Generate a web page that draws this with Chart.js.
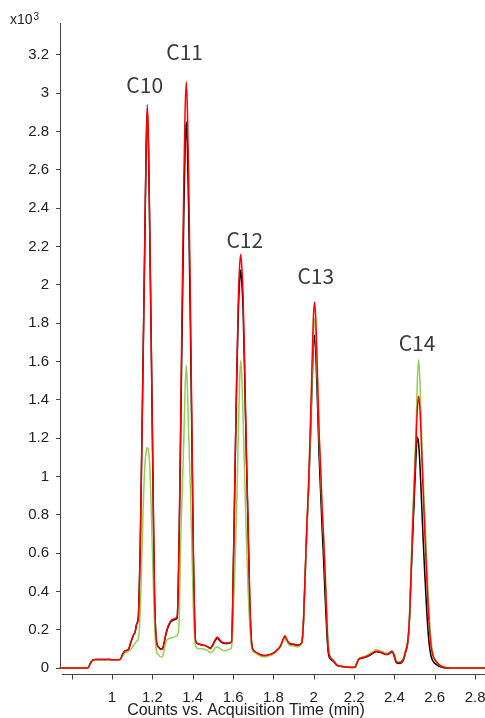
<!DOCTYPE html>
<html>
<head>
<meta charset="utf-8">
<script src="https://cdn.jsdelivr.net/npm/chart.js@4.4.1/dist/chart.umd.min.js"></script>
<style>
  html, body { margin: 0; padding: 0; background: #fff; }
</style>
</head>
<body>
<canvas id="chrom" width="485" height="718"></canvas>
<script>
// acquisition time (min), shared by the three traces
const times = [
  0.74, 0.80, 0.88, 0.893, 0.905, 0.92, 0.95, 0.98, 1.00, 1.02, 1.04, 1.052, 1.065, 1.08, 1.095, 1.105, 1.115, 1.122,
  1.130, 1.140, 1.147, 1.155, 1.163, 1.169, 1.175, 1.181, 1.187, 1.195, 1.203, 1.210, 1.220,
  1.230, 1.240, 1.248, 1.256, 1.265, 1.275, 1.290, 1.305, 1.315,
  1.323, 1.333, 1.340, 1.348, 1.356, 1.362, 1.368, 1.374, 1.380, 1.388, 1.396, 1.403, 1.413,
  1.420, 1.430, 1.445, 1.460, 1.475, 1.487, 1.500, 1.512, 1.522, 1.532, 1.545, 1.560, 1.575, 1.588,
  1.593, 1.603, 1.610, 1.618, 1.626, 1.632, 1.638, 1.644, 1.650, 1.658, 1.666, 1.673, 1.683, 1.692, 1.700,
  1.710, 1.725, 1.740, 1.758, 1.775, 1.795, 1.815, 1.835, 1.848, 1.857, 1.866, 1.880, 1.900, 1.920,
  1.940, 1.948, 1.957, 1.966, 1.974, 1.982, 1.990, 1.997, 2.004, 2.011, 2.018, 2.026, 2.034, 2.041, 2.049, 2.057, 2.065, 2.072, 2.080, 2.090, 2.100,
  2.115, 2.130, 2.150, 2.170, 2.190, 2.205, 2.212, 2.222, 2.235, 2.250, 2.265, 2.280, 2.295, 2.310, 2.325, 2.340, 2.355, 2.365, 2.378, 2.388, 2.398, 2.408, 2.420, 2.432, 2.444, 2.456,
  2.466, 2.474, 2.482, 2.490, 2.498, 2.506, 2.513, 2.520, 2.527, 2.534, 2.542, 2.550, 2.558, 2.566, 2.574, 2.582, 2.592, 2.605, 2.620, 2.640, 2.660,
  2.700, 2.780, 2.850
];

// counts (x10^3)
const redTrace = [
  0, 0, 0, 0.025, 0.042, 0.045, 0.044, 0.045, 0.043, 0.043, 0.044, 0.07, 0.09, 0.095, 0.14, 0.17, 0.19, 0.23,
  0.26, 0.65, 1.12, 1.68, 2.28, 2.72, 2.94, 2.72, 2.28, 1.65, 0.98, 0.42, 0.14,
  0.11, 0.097, 0.097, 0.12, 0.17, 0.21, 0.245, 0.255, 0.26,
  0.27, 0.72, 1.28, 1.95, 2.55, 2.90, 3.06, 2.90, 2.55, 1.95, 1.25, 0.62, 0.15,
  0.13, 0.125, 0.12, 0.118, 0.11, 0.10, 0.12, 0.15, 0.16, 0.15, 0.135, 0.13, 0.13, 0.135,
  0.14, 0.62, 1.05, 1.52, 1.92, 2.09, 2.16, 2.08, 1.93, 1.55, 1.13, 0.82, 0.35, 0.13, 0.095,
  0.085, 0.075, 0.068, 0.065, 0.068, 0.075, 0.09, 0.115, 0.15, 0.168, 0.15, 0.128, 0.125, 0.12,
  0.13, 0.22, 0.48, 0.75, 0.95, 1.22, 1.52, 1.80, 1.911, 1.80, 1.55, 1.25, 1.05, 0.85, 0.68, 0.48, 0.25, 0.10, 0.06, 0.045, 0.035,
  0.015, 0.01, 0.007, 0.005, 0.004, 0.005, 0.02, 0.045, 0.052, 0.056, 0.062, 0.07, 0.08, 0.088, 0.085, 0.08, 0.072, 0.072, 0.08, 0.088, 0.07, 0.035, 0.028, 0.03, 0.045, 0.09,
  0.14, 0.25, 0.48, 0.72, 0.93, 1.15, 1.34, 1.418, 1.34, 1.16, 0.93, 0.72, 0.52, 0.34, 0.20, 0.11, 0.06, 0.035, 0.018, 0.006, 0.001,
  0, 0, 0
];

const blackTrace = [
  0, 0, 0, 0.025, 0.042, 0.045, 0.044, 0.045, 0.043, 0.043, 0.044, 0.07, 0.09, 0.095, 0.14, 0.17, 0.19, 0.23,
  0.26, 0.65, 1.12, 1.68, 2.27, 2.70, 2.92, 2.70, 2.27, 1.64, 0.97, 0.41, 0.14,
  0.11, 0.10, 0.10, 0.12, 0.165, 0.205, 0.24, 0.25, 0.255,
  0.26, 0.68, 1.20, 1.82, 2.38, 2.70, 2.85, 2.70, 2.38, 1.82, 1.18, 0.60, 0.15,
  0.13, 0.125, 0.12, 0.117, 0.11, 0.105, 0.12, 0.145, 0.155, 0.145, 0.132, 0.128, 0.128, 0.132,
  0.14, 0.62, 1.04, 1.50, 1.86, 2.01, 2.077, 2.00, 1.86, 1.50, 1.10, 0.80, 0.34, 0.13, 0.095,
  0.085, 0.075, 0.068, 0.065, 0.068, 0.075, 0.09, 0.113, 0.145, 0.16, 0.145, 0.125, 0.122, 0.118,
  0.13, 0.22, 0.47, 0.73, 0.92, 1.15, 1.42, 1.65, 1.737, 1.62, 1.40, 1.12, 0.92, 0.74, 0.56, 0.36, 0.18, 0.08, 0.05, 0.04, 0.032,
  0.014, 0.009, 0.006, 0.004, 0.003, 0.004, 0.02, 0.044, 0.05, 0.054, 0.06, 0.068, 0.078, 0.085, 0.083, 0.078, 0.07, 0.07, 0.078, 0.085, 0.065, 0.03, 0.024, 0.026, 0.04, 0.085,
  0.13, 0.24, 0.46, 0.68, 0.88, 1.08, 1.206, 1.17, 1.05, 0.88, 0.68, 0.50, 0.34, 0.20, 0.11, 0.06, 0.035, 0.02, 0.01, 0.003, 0,
  0, 0, 0
];

const greenTrace = [
  0, 0, 0, 0.025, 0.042, 0.044, 0.043, 0.044, 0.042, 0.042, 0.043, 0.065, 0.08, 0.085, 0.10, 0.115, 0.13, 0.14,
  0.15, 0.30, 0.55, 0.86, 1.06, 1.13, 1.15, 1.13, 1.06, 0.80, 0.50, 0.25, 0.09,
  0.07, 0.058, 0.057, 0.08, 0.13, 0.15, 0.155, 0.16, 0.165,
  0.17, 0.25, 0.65, 0.92, 1.20, 1.45, 1.58, 1.45, 1.22, 0.95, 0.62, 0.32, 0.12,
  0.105, 0.10, 0.10, 0.098, 0.09, 0.08, 0.09, 0.105, 0.11, 0.105, 0.095, 0.09, 0.095, 0.10,
  0.11, 0.35, 0.55, 0.85, 1.22, 1.48, 1.607, 1.50, 1.30, 0.98, 0.68, 0.45, 0.22, 0.11, 0.085,
  0.08, 0.068, 0.06, 0.058, 0.062, 0.07, 0.085, 0.11, 0.14, 0.155, 0.14, 0.12, 0.115, 0.11,
  0.13, 0.21, 0.46, 0.72, 0.92, 1.18, 1.46, 1.72, 1.824, 1.72, 1.50, 1.22, 1.02, 0.84, 0.68, 0.49, 0.27, 0.12, 0.065, 0.048, 0.038,
  0.016, 0.011, 0.008, 0.006, 0.005, 0.006, 0.022, 0.047, 0.055, 0.06, 0.067, 0.076, 0.086, 0.095, 0.092, 0.086, 0.078, 0.077, 0.084, 0.09, 0.074, 0.04, 0.032, 0.034, 0.05, 0.095,
  0.14, 0.25, 0.50, 0.78, 1.00, 1.22, 1.48, 1.61, 1.48, 1.25, 1.00, 0.82, 0.62, 0.42, 0.25, 0.14, 0.07, 0.04, 0.02, 0.008, 0.002,
  0, 0, 0
];

const xTicks = [0.8, 1, 1.2, 1.4, 1.6, 1.8, 2, 2.2, 2.4, 2.6, 2.8];

// peak annotations (placed in data coordinates)
const peakNames = ["C10", "C11", "C12", "C13", "C14"];
const peakLabelX = [1.162, 1.360, 1.658, 2.010, 2.512];
const peakLabelY = [3.043, 3.213, 2.234, 2.047, 1.698];

const toPoints = arr => times.map((t, i) => ({ x: t, y: arr[i] }));

const tickFont = { family: "'Liberation Sans', Arial, sans-serif", size: 15 };

const decor = {
  id: 'decor',
  afterDraw(chart) {
    const { ctx, chartArea, scales } = chart;
    const xs = scales.x, ys = scales.y;
    const axisY = chartArea.bottom + 6.5;
    ctx.save();
    // x axis line + ticks (sits slightly below the plot)
    ctx.strokeStyle = '#444';
    ctx.lineWidth = 1;
    ctx.beginPath();
    ctx.moveTo(chartArea.left + 2, axisY);
    ctx.lineTo(chartArea.right, axisY);
    xTicks.forEach(v => {
      const px = Math.round(xs.getPixelForValue(v)) + 0.5;
      ctx.moveTo(px, axisY);
      ctx.lineTo(px, axisY + 5);
    });
    ctx.stroke();

    // axis title
    ctx.fillStyle = '#222';
    ctx.font = "16px 'Liberation Sans', Arial, sans-serif";
    ctx.textAlign = 'center';
    ctx.textBaseline = 'alphabetic';
    ctx.fillText('Counts vs. Acquisition Time (min)', 246, 715);

    // x10^3
    ctx.textAlign = 'left';
    ctx.font = "14px 'Liberation Sans', Arial, sans-serif";
    ctx.fillText('x10', 10, 24);
    ctx.font = "10px 'Liberation Sans', Arial, sans-serif";
    ctx.fillText('3', 33.5, 19.5);

    // peak names
    ctx.fillStyle = '#3a3a3a';
    ctx.font = "21px 'Noto Sans CJK JP', 'Noto Sans', sans-serif";
    ctx.textAlign = 'center';
    ctx.textBaseline = 'middle';
    peakNames.forEach((name, i) => {
      ctx.fillText(name, xs.getPixelForValue(peakLabelX[i]), ys.getPixelForValue(peakLabelY[i]));
    });
    ctx.restore();
  }
};

new Chart(document.getElementById('chrom'), {
  type: 'line',
  data: {
    datasets: [
      { label: 'red', data: toPoints(redTrace), borderColor: '#ff0000', order: 0 },
      { label: 'green', data: toPoints(greenTrace), borderColor: '#92d050', order: 1 },
      { label: 'black', data: toPoints(blackTrace), borderColor: '#000000', order: 2 }
    ]
  },
  options: {
    responsive: false,
    animation: false,
    devicePixelRatio: 1,
    layout: { padding: { top: 23, left: 0, right: 0, bottom: 0 } },
    elements: {
      point: { radius: 0 },
      line: { borderWidth: 1.5, cubicInterpolationMode: 'monotone', fill: false }
    },
    datasets: { line: { clip: 4 } },
    plugins: { legend: { display: false }, tooltip: { enabled: false } },
    scales: {
      x: {
        type: 'linear',
        min: 0.742,
        max: 2.849,
        grid: { display: false },
        border: { display: false },
        afterBuildTicks: s => { s.ticks = xTicks.map(v => ({ value: v })); },
        afterFit: s => { s.height = 50; s.paddingLeft = 0; s.paddingRight = 0; },
        ticks: {
          autoSkip: false,
          maxRotation: 0,
          padding: 13,
          color: '#222',
          font: tickFont,
          callback: v => (v < 0.9 ? '' : String(Number(v.toFixed(1))))
        }
      },
      y: {
        min: 0,
        max: 3.367,
        grid: { drawOnChartArea: false, tickLength: 4, color: '#444' },
        border: { color: '#444', width: 1 },
        afterFit: s => { s.width = 60; s.paddingTop = 0; s.paddingBottom = 0; },
        ticks: {
          stepSize: 0.2,
          includeBounds: false,
          padding: 7,
          color: '#222',
          font: tickFont,
          callback: v => String(Number(v.toFixed(1)))
        }
      }
    }
  },
  plugins: [decor]
});
</script>
</body>
</html>
